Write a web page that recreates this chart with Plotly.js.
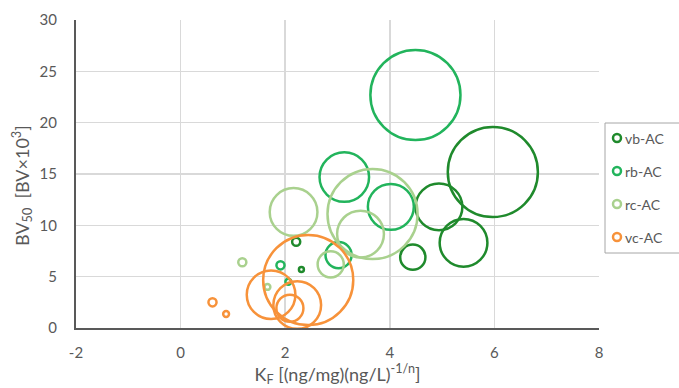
<!DOCTYPE html>
<html>
<head>
<meta charset="utf-8">
<script src="https://cdn.plot.ly/plotly-3.0.1.min.js"></script>
<style>html,body{margin:0;padding:0;background:#fff;}#chart{width:679px;height:388px;}</style>
</head>
<body>
<div id="chart"></div>
<script>
// Series names
const seriesNames = ["vb-AC", "rb-AC", "rc-AC", "vc-AC"];

// KF values (x)
const vbKF = [5.97, 4.94, 5.41, 4.44, 2.21, 2.31];
const rbKF = [4.49, 3.13, 4.02, 3.02, 1.91, 2.06];
const rcKF = [3.67, 3.44, 2.16, 2.87, 1.18, 1.66];
const vcKF = [2.44, 1.73, 2.23, 2.09, 0.61, 0.87];

// BV50 values (y, x10^3)
const vbBV = [15.2, 11.8, 8.3, 6.9, 8.4, 5.7];
const rbBV = [22.7, 14.7, 11.8, 7.1, 6.1, 4.5];
const rcBV = [11.1, 9.15, 11.3, 6.2, 6.4, 4.0];
const vcBV = [4.67, 3.24, 2.24, 1.92, 2.5, 1.36];

// Bubble size values
const vbSize = [10, 5.2, 5.3, 2.8, 0.9, 0.55];
const rbSize = [10, 5.5, 5.1, 2.9, 0.9, 0.65];
const rcSize = [10, 5.2, 5.3, 2.9, 0.9, 0.65];
const vcSize = [10, 5.4, 5.3, 3.0, 0.9, 0.65];

// Tick labels
const xTickVals = [-2, 0, 2, 4, 6, 8];
const xTickText = ["-2", "0", "2", "4", "6", "8"];
const yTickVals = [0, 5, 10, 15, 20, 25, 30];
const yTickText = ["0", "5", "10", "15", "20", "25", "30"];

// Axis titles
const xTitle = "K<sub>F</sub> [(ng/mg)(ng/L)<sup>-1/n</sup>]";
const yTitle = "BV<sub>50</sub>\u00a0 [BV×10<sup>3</sup>]";

const colors = ["#1f8a2c", "#22b45c", "#a9d18e", "#f7923a"];
const xs = [vbKF, rbKF, rcKF, vcKF];
const ys = [vbBV, rbBV, rcBV, vcBV];
const ss = [vbSize, rbSize, rcSize, vcSize];

const traces = seriesNames.map((name, i) => ({
  type: "scatter",
  mode: "markers",
  name: name,
  x: xs[i],
  y: ys[i],
  marker: {
    size: ss[i],
    sizemode: "diameter",
    sizeref: 0.111,
    opacity: 1,
    color: "rgba(0,0,0,0)",
    line: {color: colors[i], width: 2.5}
  },
  hoverinfo: "x+y"
}));

// Custom legend (box, symbols, labels) placed beside the plot
const plotL = 76, plotR = 599, plotT = 20, plotB = 328;
const px2x = p => (p - plotL) / (plotR - plotL);
const px2y = p => (plotB - p) / (plotB - plotT);
const legendRows = [138, 171, 204, 237];

const shapes = [{
  type: "rect", xref: "paper", yref: "paper",
  x0: px2x(605), x1: px2x(690), y0: px2y(253), y1: px2y(123),
  line: {color: "#a6a6a6", width: 1}, fillcolor: "rgba(0,0,0,0)"
}];
const annotations = [];
seriesNames.forEach((name, i) => {
  shapes.push({
    type: "circle", xref: "paper", yref: "paper",
    xsizemode: "pixel", ysizemode: "pixel",
    xanchor: px2x(617), yanchor: px2y(legendRows[i]),
    x0: -4, x1: 4, y0: -4, y1: 4,
    line: {color: colors[i], width: 2.5}, fillcolor: "rgba(0,0,0,0)"
  });
  annotations.push({
    xref: "paper", yref: "paper",
    x: px2x(623), y: px2y(legendRows[i]),
    xanchor: "left", yanchor: "middle",
    text: name, showarrow: false,
    font: {size: 14, color: "#595959"}
  });
});
// y-axis title (placed slightly below plot centre as in the reference)
annotations.push({
  xref: "paper", yref: "paper",
  x: px2x(22), y: px2y(186),
  xanchor: "center", yanchor: "middle",
  textangle: -90,
  text: yTitle, showarrow: false,
  font: {size: 18, color: "#595959"}
});

const fontFam = "Lato, 'Open Sans', sans-serif";
const layout = {
  width: 679,
  height: 388,
  margin: {l: 76, r: 80, t: 20, b: 60},
  paper_bgcolor: "#ffffff",
  plot_bgcolor: "#ffffff",
  font: {family: fontFam, size: 14, color: "#595959"},
  showlegend: false,
  shapes: shapes,
  annotations: annotations,
  xaxis: {
    range: [-2, 8],
    tickmode: "array",
    tickvals: xTickVals,
    ticktext: xTickText,
    showgrid: true,
    gridcolor: "#d9d9d9",
    gridwidth: 1.5,
    zeroline: false,
    showline: true,
    linecolor: "#595959",
    linewidth: 2,
    ticks: "",
    ticklabelstandoff: 10,
    tickfont: {size: 15, color: "#595959"},
    title: {text: xTitle, font: {size: 18, color: "#595959"}, standoff: 4}
  },
  yaxis: {
    range: [0, 30],
    tickmode: "array",
    tickvals: yTickVals,
    ticktext: yTickText,
    showgrid: true,
    gridcolor: "#d9d9d9",
    gridwidth: 1.5,
    zeroline: false,
    showline: true,
    linecolor: "#595959",
    linewidth: 2,
    ticks: "",
    ticklabelstandoff: 14,
    tickfont: {size: 15, color: "#595959"}
  }
};

Plotly.newPlot("chart", traces, layout, {displayModeBar: false, staticPlot: true});
</script>
</body>
</html>
